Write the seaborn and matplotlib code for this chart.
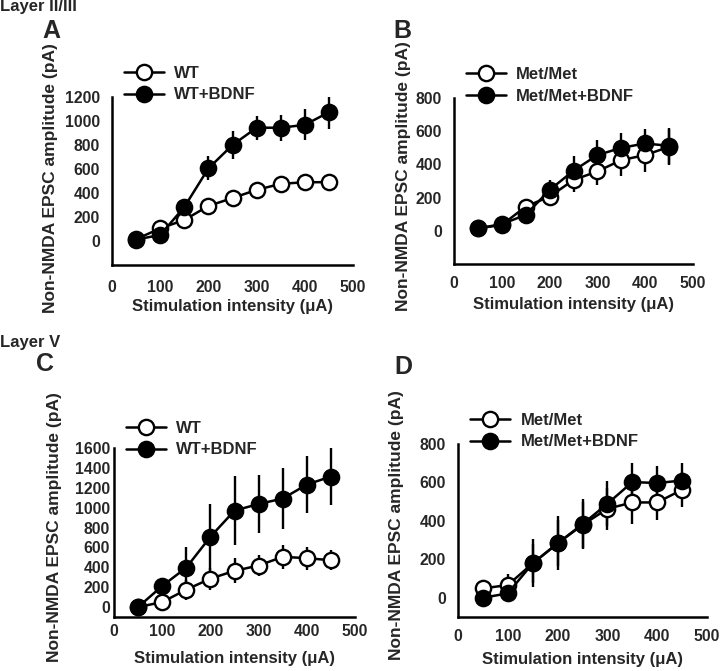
import numpy as np
import matplotlib
matplotlib.use("Agg")
import matplotlib.pyplot as plt
import seaborn as sns

sns.set_style("ticks")
plt.rcParams["font.family"] = ["Liberation Sans", "DejaVu Sans"]
plt.rcParams["font.weight"] = "bold"

# stimulation intensity (uA)
stim = [50, 100, 150, 200, 250, 300, 350, 400, 450]

# Panel A - Layer II/III, WT
a_ctrl = [15, 105, 175, 292, 358, 426, 476, 490, 490]
a_ctrl_err = [10, 20, 25, 30, 25, 40, 40, 50, 55]
a_bdnf = [12, 50, 283, 605, 800, 944, 944, 968, 1073]
a_bdnf_err = [10, 20, 40, 100, 115, 100, 110, 130, 140]

# Panel B - Layer II/III, Met/Met
b_ctrl = [15, 35, 146, 206, 306, 358, 426, 456, 506]
b_ctrl_err = [10, 15, 40, 50, 70, 80, 95, 100, 110]
b_bdnf = [15, 40, 96, 246, 362, 456, 500, 526, 512]
b_bdnf_err = [10, 15, 40, 60, 90, 90, 90, 85, 110]

# Panel C - Layer V, WT
c_ctrl = [0, 50, 175, 286, 364, 418, 505, 492, 471]
c_ctrl_err = [10, 30, 100, 110, 125, 105, 120, 115, 100]
c_bdnf = [0, 212, 397, 707, 970, 1037, 1091, 1232, 1313]
c_bdnf_err = [10, 75, 210, 330, 345, 295, 310, 283, 290]

# Panel D - Layer V, Met/Met
d_ctrl = [49, 66, 179, 283, 379, 463, 496, 496, 562]
d_ctrl_err = [15, 60, 100, 120, 120, 110, 110, 90, 90]
d_bdnf = [0, 23, 179, 283, 383, 489, 602, 597, 610]
d_bdnf_err = [10, 20, 125, 140, 130, 117, 100, 90, 90]

fig = plt.figure(figsize=(7.2, 6.71), dpi=100)

# axes rectangles in pixels: left, top, right, bottom
W, H = 720, 671
boxes = {
    "A": (112, 97, 353, 265),
    "B": (454, 98, 693, 264),
    "C": (114, 448, 355, 617),
    "D": (458, 444, 707, 617),
}

panels = [
    ("A", a_ctrl, a_ctrl_err, a_bdnf, a_bdnf_err, "WT", "WT+BDNF", (-200, 1200), 1200, 8.5, 11, -0.257, 0.515),
    ("B", b_ctrl, b_ctrl_err, b_bdnf, b_bdnf_err, "Met/Met", "Met/Met+BDNF", (-200, 800), 800, 8.5, 9, -0.213, 0.53),
    ("C", c_ctrl, c_ctrl_err, c_bdnf, c_bdnf_err, "WT", "WT+BDNF", (-100, 1600), 1600, 3, 5, -0.245, 0.53),
    ("D", d_ctrl, d_ctrl_err, d_bdnf, d_bdnf_err, "Met/Met", "Met/Met+BDNF", (-100, 800), 800, 8.5, 8.5, -0.245, 0.53),
]

leg_y = {"A": 1.077, "B": 1.077, "C": 1.053, "D": 1.075}

for name, yc, ec, yb, eb, lab1, lab2, ylim, ytop, ypad, xpad, ylx, yly in panels:
    l, t, r, b = boxes[name]
    ax = fig.add_axes([l / W, 1 - b / H, (r - l) / W, (b - t) / H])

    ax.errorbar(stim, yc, yerr=ec, fmt="none", ecolor="black", elinewidth=1.7, capsize=0, zorder=1)
    ax.errorbar(stim, yb, yerr=eb, fmt="none", ecolor="black", elinewidth=1.7, capsize=0, zorder=1)
    sns.lineplot(x=stim, y=yc, ax=ax, color="black", linewidth=1.8, marker="o", markersize=11,
                 markerfacecolor="white", markeredgecolor="black", markeredgewidth=1.7, label=lab1, zorder=3)
    sns.lineplot(x=stim, y=yb, ax=ax, color="black", linewidth=1.8, marker="o", markersize=11,
                 markerfacecolor="black", markeredgecolor="black", markeredgewidth=1.7, label=lab2, zorder=4)

    ax.set_xlim(0, 500)
    ax.set_ylim(*ylim)
    ax.set_xticks(np.arange(0, 501, 100))
    ax.set_yticks(np.arange(0, ytop + 1, 200))
    ax.tick_params(axis="both", length=0, labelsize=11.3)
    ax.tick_params(axis="y", pad=ypad)
    ax.tick_params(axis="x", pad=xpad)
    for lbl in ax.get_xticklabels() + ax.get_yticklabels():
        lbl.set_fontweight("bold")
    sns.despine(ax=ax)
    for s in ("left", "bottom"):
        ax.spines[s].set_linewidth(1.8)
        ax.spines[s].set_color("black")

    ax.set_xlabel("Stimulation intensity (\u03bcA)", fontsize=12, fontweight="bold")
    ax.set_ylabel("Non-NMDA EPSC amplitude (pA)", fontsize=12.5, fontweight="bold")
    ax.xaxis.label.set_va("center")
    ax.yaxis.label.set_va("center")
    ax.xaxis.set_label_coords(0.5, -0.245)
    ax.yaxis.set_label_coords(ylx, yly)

    ax.legend(loc="center left", bbox_to_anchor=(0.05, leg_y[name]), frameon=False,
              handlelength=2.4, handletextpad=0.6, labelspacing=0.4,
              borderaxespad=0, borderpad=0, prop={"weight": "bold", "size": 12})

letters = {"A": (51, 31), "B": (402, 31), "C": (45, 364), "D": (403, 367)}
for k, (px, py) in letters.items():
    fig.text(px / W, 1 - py / H, k, fontsize=18, fontweight="bold", ha="center", va="center")

fig.text(0, 1 - 6 / H, "Layer II/III", fontsize=12, fontweight="bold", ha="left", va="center")
fig.text(0, 1 - 343 / H, "Layer V", fontsize=12, fontweight="bold", ha="left", va="center")

fig.savefig("out.png", dpi=100, facecolor="white")
